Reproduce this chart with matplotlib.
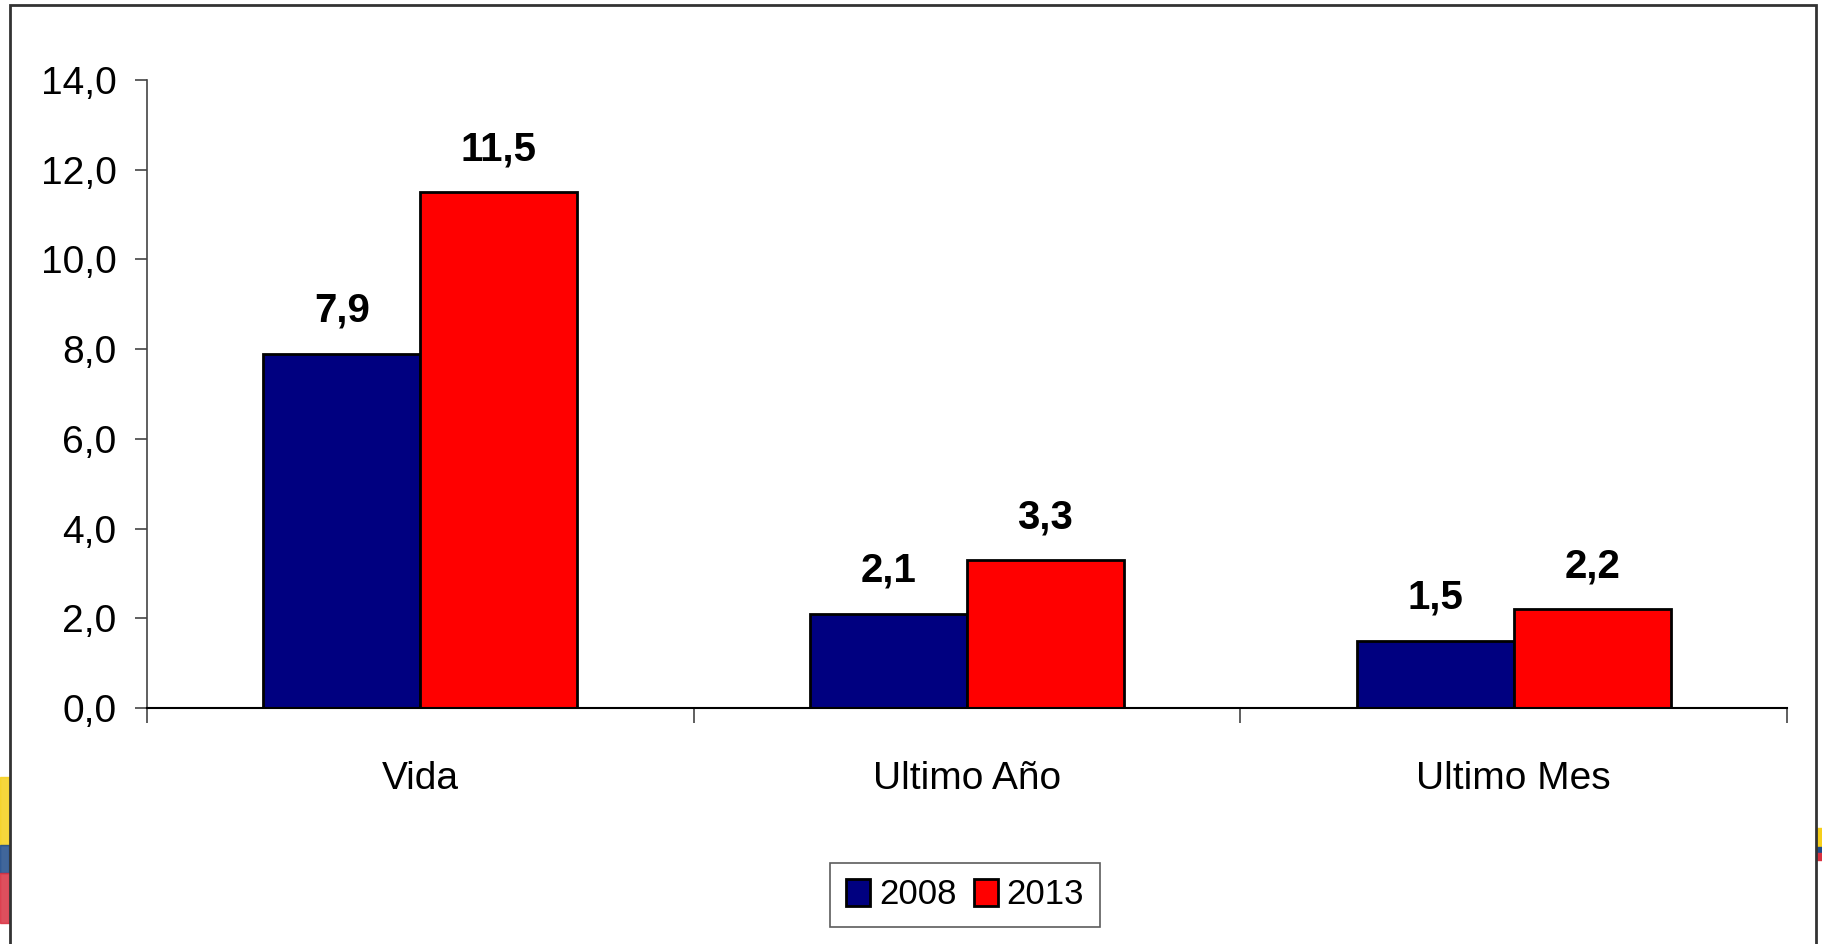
import matplotlib
matplotlib.use("Agg")
import matplotlib.pyplot as plt
from matplotlib.patches import Rectangle
from matplotlib.ticker import FixedLocator, FixedFormatter
import numpy as np

# ── data ─────────────────────────────────────────────────────────────────────
categories = ["Vida", "Ultimo Año", "Ultimo Mes"]
series_names = ["2008", "2013"]
values_2008 = [7.9, 2.1, 1.5]
values_2013 = [11.5, 3.3, 2.2]
y_ticks = [0, 2, 4, 6, 8, 10, 12, 14]

COLOR_2008 = "#000080"
COLOR_2013 = "#FF0000"

plt.rcParams["font.family"] = ["Liberation Sans Narrow", "Liberation Sans", "DejaVu Sans"]

W, H, DPI = 1822, 944, 100
fig = plt.figure(figsize=(W / DPI, H / DPI), dpi=DPI)
ax = fig.add_axes([147 / W, 1 - 708 / H, (1787 - 147) / W, (708 - 80) / H])

centers = np.arange(len(categories)) + 0.5
bw = 0.287

b1 = ax.bar(centers - bw / 2, values_2008, width=bw, color=COLOR_2008,
            edgecolor="black", linewidth=2, label=series_names[0], zorder=3)
b2 = ax.bar(centers + bw / 2, values_2013, width=bw, color=COLOR_2013,
            edgecolor="black", linewidth=2, label=series_names[1], zorder=3)

def fmt(v):
    return f"{v:.1f}".replace(".", ",")

for bars, vals in [(b1, values_2008), (b2, values_2013)]:
    for rect, v in zip(bars, vals):
        ax.annotate(fmt(v), (rect.get_x() + rect.get_width() / 2, v),
                    xytext=(0, 23), textcoords="offset points",
                    ha="center", va="baseline", fontsize=29, fontweight="bold")

ax.set_xlim(0, len(categories))
ax.set_ylim(0, 14)

# y axis
ax.yaxis.set_major_locator(FixedLocator(y_ticks))
ax.yaxis.set_major_formatter(FixedFormatter([fmt(t) for t in y_ticks]))
ax.tick_params(axis="y", direction="out", length=9, width=1.2, labelsize=28,
               pad=13, color="#444444")

# x axis: category labels at centres, tick marks at group boundaries
ax.set_xticks(centers)
ax.set_xticklabels(categories)
ax.set_xticks(np.arange(len(categories) + 1), minor=True)
ax.tick_params(axis="x", which="major", length=0, labelsize=28, pad=38)
ax.tick_params(axis="x", which="minor", direction="out", length=11, width=1.2,
               color="#444444")

for s in ["top", "right"]:
    ax.spines[s].set_visible(False)
ax.spines["left"].set_color("#444444")
ax.spines["left"].set_linewidth(1.2)
ax.spines["bottom"].set_color("black")
ax.spines["bottom"].set_linewidth(1.5)
ax.spines["bottom"].set_zorder(4)

leg = fig.legend(handles=[b1, b2], labels=series_names, loc="center",
                 bbox_to_anchor=(965 / W, 1 - 895 / H), ncol=2, fontsize=25,
                 frameon=True, fancybox=False, handlelength=0.7, handleheight=0.85,
                 handletextpad=0.25, columnspacing=0.5, borderpad=0.45)
leg.get_frame().set_edgecolor("#333333")
leg.get_frame().set_linewidth(1.2)

# slide frame and decorative stripes at the edges
fig.patches.append(Rectangle((10 / W, -0.02), (1816 - 10) / W, 1 - 5 / H + 0.02,
                             transform=fig.transFigure, fill=False,
                             edgecolor="#333333", linewidth=2))
for y0, y1, c in [(777, 845, "#F6CF1A"), (845, 873, "#1E4B8A"), (873, 923, "#D93040")]:
    fig.patches.append(Rectangle((0, 1 - y1 / H), 9 / W, (y1 - y0) / H,
                                 transform=fig.transFigure, color=c, alpha=0.85, zorder=0))
for y0, y1, c in [(828, 847, "#F6CF1A"), (847, 853, "#1E4B8A"), (853, 860, "#D93040")]:
    fig.patches.append(Rectangle((1817 / W, 1 - y1 / H), 5 / W, (y1 - y0) / H,
                                 transform=fig.transFigure, color=c, zorder=0))

fig.savefig("out.png", dpi=DPI)
plt.close(fig)
